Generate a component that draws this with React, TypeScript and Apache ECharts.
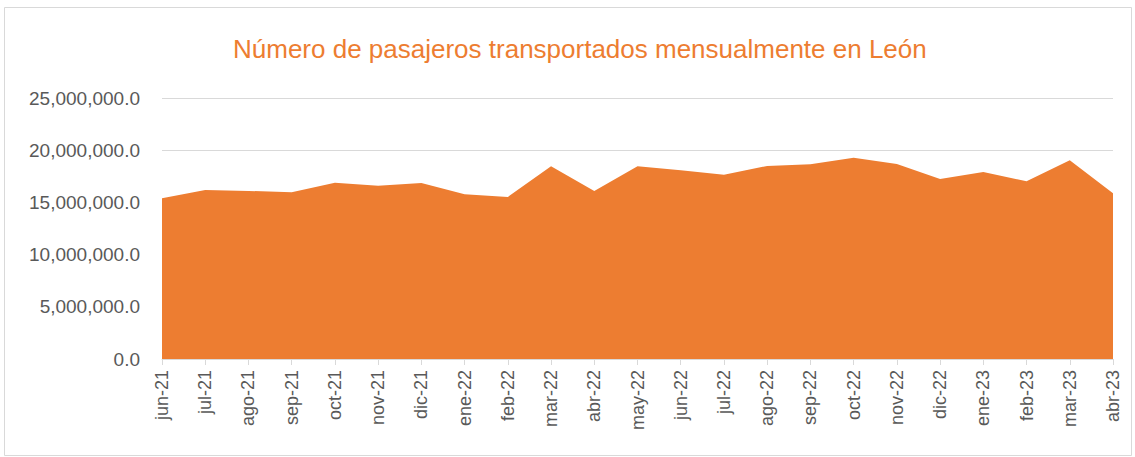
import React, { useEffect, useRef } from "react";
import * as echarts from "echarts";

const categories = [
  "jun-21", "jul-21", "ago-21", "sep-21", "oct-21", "nov-21", "dic-21", "ene-22",
  "feb-22", "mar-22", "abr-22", "may-22", "jun-22", "jul-22", "ago-22", "sep-22",
  "oct-22", "nov-22", "dic-22", "ene-23", "feb-23", "mar-23", "abr-23",
];

const passengers = [
  15390000, 16190000, 16100000, 15970000, 16890000, 16600000, 16860000, 15770000,
  15520000, 18460000, 16090000, 18460000, 18070000, 17660000, 18490000, 18650000,
  19280000, 18680000, 17240000, 17910000, 17020000, 19030000, 15870000,
];

const titleText = "Número de pasajeros transportados mensualmente en León";

const FONT = "'Liberation Sans Narrow', 'Arial Narrow', 'Liberation Sans', sans-serif";

export default function App() {
  const ref = useRef<HTMLDivElement>(null);
  useEffect(() => {
    document.body.style.margin = "0";
    const chart = echarts.init(ref.current!, undefined, { renderer: "svg" });
    chart.setOption({
      animation: false,
      backgroundColor: "#ffffff",
      title: {
        text: titleText,
        left: 228,
        top: 31,
        textStyle: { color: "#ED7D31", fontSize: 26, fontWeight: "normal", fontFamily: FONT },
      },
      graphic: [
        {
          type: "rect",
          shape: { x: 4.5, y: 7.5, width: 1127, height: 448 },
          style: { fill: "none", stroke: "#D9D9D9", lineWidth: 1 },
          silent: true,
        },
      ],
      grid: { left: 162, right: 22, top: 98, bottom: 98 },
      xAxis: {
        type: "category",
        data: categories,
        boundaryGap: false,
        axisLine: { show: true, lineStyle: { color: "#D9D9D9", width: 1 } },
        axisTick: { show: true, length: 6, alignWithLabel: true, lineStyle: { color: "#D9D9D9" } },
        axisLabel: {
          rotate: 90,
          margin: 11,
          color: "#595959",
          fontSize: 18,
          fontFamily: FONT,
          interval: 0,
        },
      },
      yAxis: {
        type: "value",
        min: 0,
        max: 25000000,
        interval: 5000000,
        axisLine: { show: false },
        axisTick: { show: false },
        splitLine: { lineStyle: { color: "#D9D9D9", width: 1 } },
        axisLabel: {
          color: "#595959",
          fontSize: 19,
          fontFamily: FONT,
          margin: 22,
          formatter: (v: number) =>
            v.toLocaleString("en-US", { minimumFractionDigits: 1, maximumFractionDigits: 1 }),
        },
      },
      series: [
        {
          type: "line",
          data: passengers,
          symbol: "none",
          lineStyle: { width: 0, color: "#ED7D31" },
          itemStyle: { color: "#ED7D31" },
          areaStyle: { color: "#ED7D31", opacity: 1 },
        },
      ],
    });
    return () => chart.dispose();
  }, []);
  return <div ref={ref} style={{ width: 1135, height: 457 }} />;
}
